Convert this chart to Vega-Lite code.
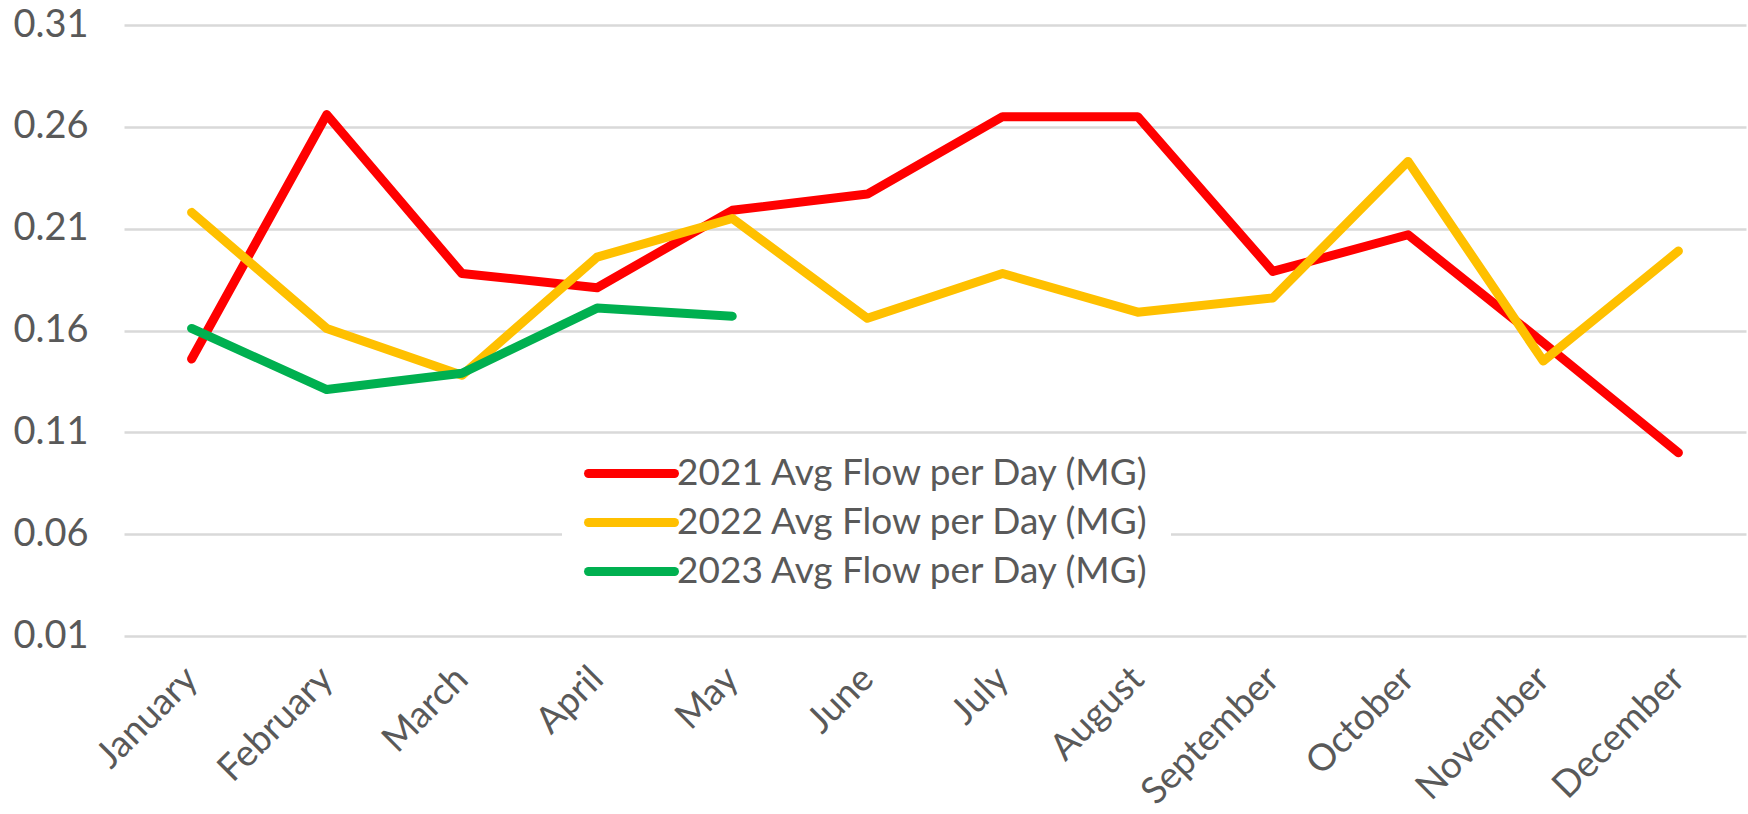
{
  "$schema": "https://vega.github.io/schema/vega-lite/v6.json",
  "width": 1622,
  "height": 611,
  "autosize": {"type": "none"},
  "padding": {"left": 124, "top": 25, "right": 2, "bottom": 178},
  "background": "white",
  "config": {"view": {"stroke": null}, "font": "Lato"},
  "data": {
    "values": [
      {"month": "January", "series": "2021 Avg Flow per Day (MG)", "value": 0.146},
      {"month": "February", "series": "2021 Avg Flow per Day (MG)", "value": 0.266},
      {"month": "March", "series": "2021 Avg Flow per Day (MG)", "value": 0.188},
      {"month": "April", "series": "2021 Avg Flow per Day (MG)", "value": 0.181},
      {"month": "May", "series": "2021 Avg Flow per Day (MG)", "value": 0.219},
      {"month": "June", "series": "2021 Avg Flow per Day (MG)", "value": 0.227},
      {"month": "July", "series": "2021 Avg Flow per Day (MG)", "value": 0.265},
      {"month": "August", "series": "2021 Avg Flow per Day (MG)", "value": 0.265},
      {"month": "September", "series": "2021 Avg Flow per Day (MG)", "value": 0.189},
      {"month": "October", "series": "2021 Avg Flow per Day (MG)", "value": 0.207},
      {"month": "November", "series": "2021 Avg Flow per Day (MG)", "value": 0.154},
      {"month": "December", "series": "2021 Avg Flow per Day (MG)", "value": 0.100},
      {"month": "January", "series": "2022 Avg Flow per Day (MG)", "value": 0.218},
      {"month": "February", "series": "2022 Avg Flow per Day (MG)", "value": 0.161},
      {"month": "March", "series": "2022 Avg Flow per Day (MG)", "value": 0.138},
      {"month": "April", "series": "2022 Avg Flow per Day (MG)", "value": 0.196},
      {"month": "May", "series": "2022 Avg Flow per Day (MG)", "value": 0.215},
      {"month": "June", "series": "2022 Avg Flow per Day (MG)", "value": 0.166},
      {"month": "July", "series": "2022 Avg Flow per Day (MG)", "value": 0.188},
      {"month": "August", "series": "2022 Avg Flow per Day (MG)", "value": 0.169},
      {"month": "September", "series": "2022 Avg Flow per Day (MG)", "value": 0.176},
      {"month": "October", "series": "2022 Avg Flow per Day (MG)", "value": 0.243},
      {"month": "November", "series": "2022 Avg Flow per Day (MG)", "value": 0.145},
      {"month": "December", "series": "2022 Avg Flow per Day (MG)", "value": 0.199},
      {"month": "January", "series": "2023 Avg Flow per Day (MG)", "value": 0.161},
      {"month": "February", "series": "2023 Avg Flow per Day (MG)", "value": 0.131},
      {"month": "March", "series": "2023 Avg Flow per Day (MG)", "value": 0.139},
      {"month": "April", "series": "2023 Avg Flow per Day (MG)", "value": 0.171},
      {"month": "May", "series": "2023 Avg Flow per Day (MG)", "value": 0.167}
    ]
  },
  "mark": {"type": "line", "strokeWidth": 9, "strokeCap": "round", "strokeJoin": "round"},
  "encoding": {
    "x": {
      "field": "month",
      "type": "ordinal",
      "sort": ["January", "February", "March", "April", "May", "June", "July", "August", "September", "October", "November", "December"],
      "scale": {"type": "point", "padding": 0.5},
      "axis": {
        "title": null,
        "labelAngle": -45,
        "labelAlign": "right",
        "labelBaseline": "middle",
        "labelFontSize": 37,
        "labelColor": "#595959",
        "labelFont": "Lato",
        "ticks": false,
        "domain": false,
        "grid": false,
        "labelPadding": 37
      }
    },
    "y": {
      "field": "value",
      "type": "quantitative",
      "scale": {"domain": [0.01, 0.31], "nice": false, "zero": false},
      "axis": {
        "title": null,
        "values": [0.01, 0.06, 0.11, 0.16, 0.21, 0.26, 0.31],
        "format": ".2f",
        "labelFontSize": 38,
        "labelColor": "#595959",
        "labelFont": "Lato",
        "ticks": false,
        "domain": false,
        "gridColor": "#D9D9D9",
        "gridWidth": 2.5,
        "labelPadding": 36
      }
    },
    "color": {
      "field": "series",
      "type": "nominal",
      "scale": {
        "domain": ["2021 Avg Flow per Day (MG)", "2022 Avg Flow per Day (MG)", "2023 Avg Flow per Day (MG)"],
        "range": ["#FF0000", "#FFC000", "#00B050"]
      },
      "legend": {
        "title": null,
        "orient": "none",
        "legendX": 438,
        "legendY": 410,
        "direction": "vertical",
        "fillColor": "white",
        "padding": 20,
        "symbolType": "M-4,0H4",
        "symbolSize": 462,
        "symbolStrokeWidth": 9,
        "symbolOffset": 31,
        "labelOffset": 27,
        "labelFontSize": 37,
        "labelFont": "Lato",
        "labelColor": "#595959",
        "labelLimit": 0,
        "rowPadding": 11,
        "encode": {"symbols": {"update": {"strokeCap": {"value": "round"}}}}
      }
    }
  }
}
